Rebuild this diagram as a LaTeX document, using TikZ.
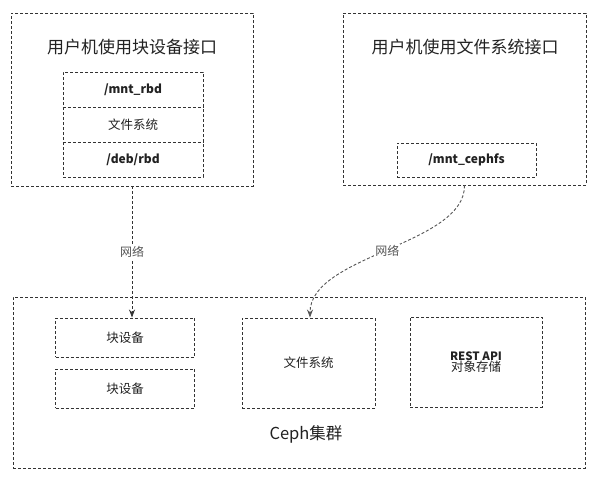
\documentclass[tikz,border=0pt]{standalone}
\usepackage{fontspec}
\setmainfont{Noto Sans CJK SC}
\usetikzlibrary{arrows.meta}
\definecolor{linec}{HTML}{333333}
\definecolor{conc}{HTML}{555555}
\definecolor{txtc}{HTML}{222222}
\tikzset{
  dashline/.style={line width=0.9pt, dash pattern=on 3pt off 2pt},
  dbox/.style={draw=linec, dashline, rectangle, inner sep=0pt, text=txtc},
  plain/.style={rectangle, inner sep=0pt, text=txtc},
  title/.style={font=\fontsize{17}{20}\selectfont, text=txtc, inner sep=0pt},
  lbl/.style={font=\fontsize{12}{14}\selectfont\bfseries, text=txtc},
  cjk/.style={font=\fontsize{12.5}{14}\selectfont, text=txtc},
  conn/.style={draw=conc, dashline, -{Stealth[length=8pt,width=6pt]}},
  netlbl/.style={font=\fontsize{12}{14}\selectfont, text=conc, fill=white, inner sep=1pt}
}
\begin{document}
\begin{tikzpicture}[x=1pt,y=-1pt]
\useasboundingbox[fill=white] (0,0) rectangle (600,477);
% top-left client
\node[dbox, minimum width=242pt, minimum height=173pt] (tl) at (132,99.5) {};
\node[title] (tlt) at (132,47) {用户机使用块设备接口};
\node[dbox, minimum width=140pt, minimum height=105pt] (stack) at (133,124.5) {};
\node[plain, lbl, minimum width=140pt, minimum height=36pt] (mnt) at (133,90) {/mnt\_rbd};
\node[plain, cjk, minimum width=140pt, minimum height=34pt] (fsl) at (133,125) {文件系统};
\node[plain, lbl, minimum width=140pt, minimum height=35pt] (dev) at (133,159.5) {/deb/rbd};
\draw[draw=linec, dashline] (fsl.north west) -- (fsl.north east);
\draw[draw=linec, dashline] (fsl.south west) -- (fsl.south east);
% top-right client
\node[dbox, minimum width=243pt, minimum height=172pt] (tr) at (464.5,99) {};
\node[title] (trt) at (465,47) {用户机使用文件系统接口};
\node[dbox, lbl, minimum width=139pt, minimum height=34pt] (ceph) at (466.5,160) {/mnt\_cephfs};
% cluster
\node[dbox, minimum width=572pt, minimum height=171pt] (cl) at (299,382.5) {};
\node[dbox, cjk, minimum width=139pt, minimum height=39pt] (blk1) at (125,337.5) {块设备};
\node[dbox, cjk, minimum width=139pt, minimum height=39pt] (blk2) at (125,388.5) {块设备};
\node[dbox, cjk, minimum width=133pt, minimum height=90pt] (fs) at (308.5,363) {文件系统};
\node[dbox, minimum width=132pt, minimum height=90pt, align=center] (rest) at (476,362)
  {{\fontsize{11.5}{14}\selectfont\bfseries REST API}\\[-1pt]{\fontsize{12.5}{14}\selectfont 对象存储}};
\node[font=\fontsize{16.5}{18}\selectfont, text=txtc] (clt) at (306,434) {Ceph集群};
% connectors
\draw[conn, draw=linec] (tl.south) -- node[netlbl] (n1) {网络} (tl.south |- blk1.north);
\draw[conn] (tr.south) .. controls (465,245) and (310,255) .. node[netlbl] (n2) {网络} ([xshift=1.5pt]fs.north);
\end{tikzpicture}
\end{document}
